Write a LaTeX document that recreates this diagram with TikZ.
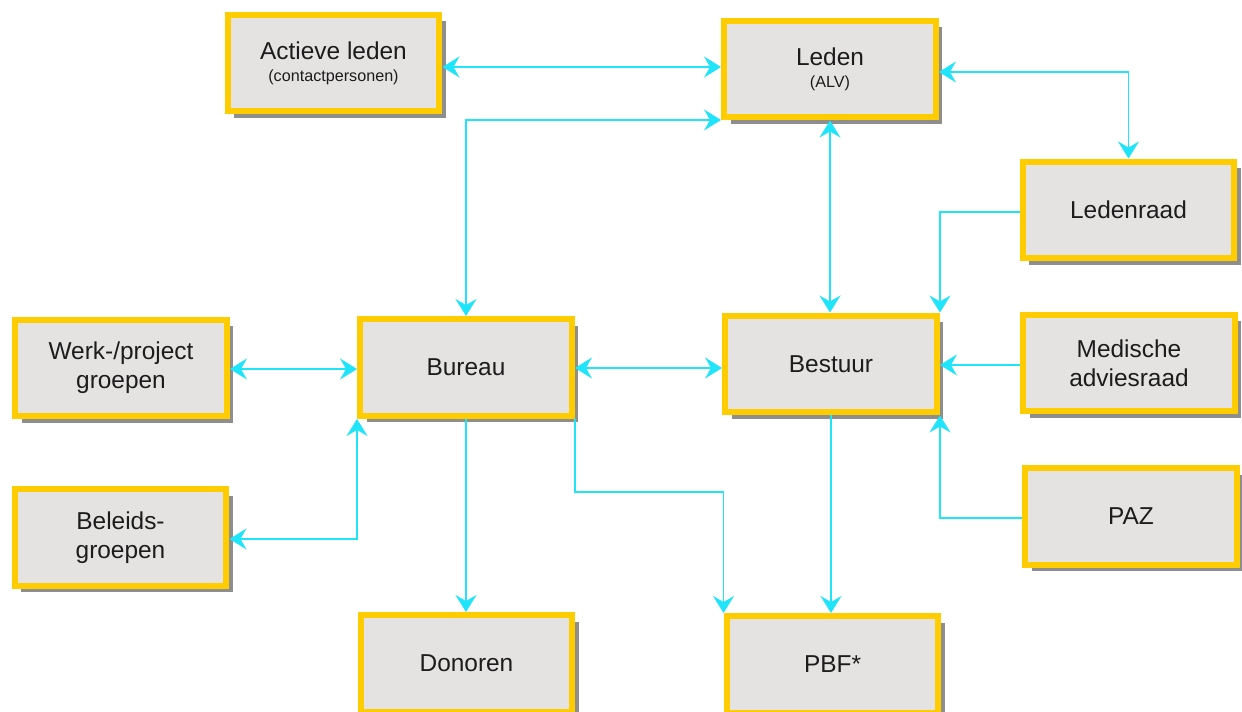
\documentclass[tikz,border=0pt]{standalone}
\usepackage{fontspec}
\setmainfont{Liberation Sans}
\usetikzlibrary{arrows.meta,shadows}

\definecolor{boxfill}{HTML}{E4E3E2}
\definecolor{boxedge}{HTML}{FFCC00}
\definecolor{boxshade}{HTML}{8E8E8E}
\definecolor{linkcol}{HTML}{1FE4FA}
\definecolor{txt}{HTML}{1C1C1C}

\tikzset{
  orgbox/.style={draw=boxedge, line width=0.12cm, fill=boxfill,
    minimum width=4.24cm, minimum height=1.94cm, inner sep=0pt,
    align=center, text=txt,
    font=\fontsize{13.9}{16.5}\selectfont,
    drop shadow={shadow xshift=0.13cm, shadow yshift=-0.13cm,
                 fill=boxshade, opacity=1}},
  tip/.tip={Stealth[length=0.34cm, width=0.42cm, inset=0.12cm]},
  link/.style={draw=linkcol, line width=1.1pt, tip-tip},
  linkto/.style={draw=linkcol, line width=1.1pt, -tip},
}
\newcommand{\subline}[1]{{\fontsize{9.2}{11}\selectfont #1}}

\begin{document}
\begin{tikzpicture}[x=0.02cm, y=-0.02cm]
  \useasboundingbox (0,0) rectangle (1242,712);
  \clip (0,0) rectangle (1242,712);

  % boxes
  \node[orgbox] (actief)    at (333.5,63)   {Actieve leden\\[-4pt]\subline{(contactpersonen)}};
  \node[orgbox] (leden)     at (830,69)     {Leden\\[-4pt]\subline{(ALV)}};
  \node[orgbox] (ledenraad) at (1128.5,210) {Ledenraad};
  \node[orgbox] (werk)      at (121,368)    {Werk-/project\\groepen};
  \node[orgbox] (bureau)    at (466,367.5)  {Bureau};
  \node[orgbox] (bestuur)   at (831,364)    {Bestuur};
  \node[orgbox] (medisch)   at (1129,363)   {Medische\\adviesraad};
  \node[orgbox] (beleid)    at (120.5,537.5){Beleids-\\groepen};
  \node[orgbox] (paz)       at (1131,516.5) {PAZ};
  \node[orgbox] (donoren)   at (466.5,663.5){Donoren};
  \node[orgbox] (pbf)       at (832.5,664.5){PBF*};

  % connectors around Leden
  \draw[link] (actief.east |- 0,67) -- (leden.west |- 0,67);
  \draw[link] (leden.west |- 0,120) -| (bureau.north);
  \draw[link] (leden.east |- 0,72) -| (ledenraad.north);
  \draw[link] (leden.south) -- (leden.south |- bestuur.north);

  % advisory bodies into Bestuur
  \draw[linkto] (ledenraad.west |- 0,212) -| (bestuur.north east);
  \draw[linkto] (medisch.west |- 0,365) -- (bestuur.east |- 0,365);
  \draw[linkto] (paz.west |- 0,518) -| (bestuur.south east);

  % Bureau links
  \draw[link] (werk.east |- 0,369) -- (bureau.west |- 0,369);
  \draw[link] (beleid.east |- 0,539) -| (bureau.south west);
  \draw[link] (bureau.east |- 0,368) -- (bestuur.west |- 0,368);
  \draw[linkto] (bureau.south) -- (bureau.south |- donoren.north);
  \draw[linkto] (bureau.south east) -- (bureau.south east |- 0,492) -| (pbf.north west);

  % Bestuur to PBF
  \draw[linkto] (bestuur.south) -- (bestuur.south |- pbf.north);
\end{tikzpicture}
\end{document}
